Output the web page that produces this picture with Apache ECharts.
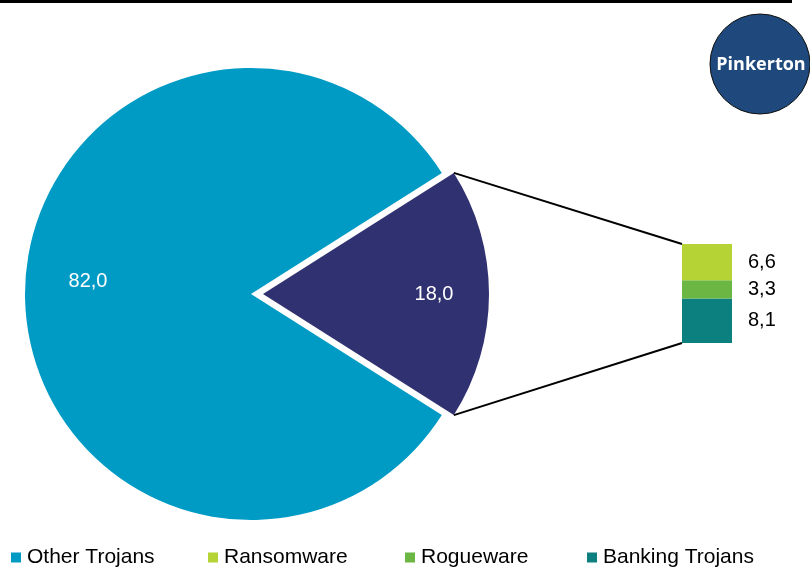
<!DOCTYPE html>
<html>
<head>
<meta charset="utf-8">
<script src="https://cdn.jsdelivr.net/npm/echarts@6/dist/echarts.min.js"></script>
<style>
  html, body { margin: 0; padding: 0; background: #fff; }
  #chart { width: 810px; height: 567px; }
</style>
</head>
<body>
<div id="chart"></div>
<script>
// Trojan family shares (percent), pie plus breakdown bar
const pieNames = ['Other Trojans', 'Other'];
const pieValues = [82.0, 18.0];
const barNames = ['Ransomware', 'Rogueware', 'Banking Trojans'];
const barValues = [6.6, 3.3, 8.1];
const legendNames = ['Other Trojans', 'Ransomware', 'Rogueware', 'Banking Trojans'];

const colors = {
  'Other Trojans': '#009bc4',
  'Other': '#303170',
  'Ransomware': '#b5d334',
  'Rogueware': '#6cb744',
  'Banking Trojans': '#0b807e'
};

const FONT = '"Liberation Sans", Arial, sans-serif';
const fmt = v => v.toFixed(1).replace('.', ',');

// Pie layout
const PIE_CX = 251, PIE_CY = 294, PIE_R = 226, EXPLODE = 12;
const splitTotal = pieValues[1];
const half = splitTotal / (pieValues[0] + pieValues[1]) * 180; // half-angle of detached slice

// Bar layout
const BAR_LEFT = 682, BAR_W = 50, BAR_TOP = 244, BAR_H = 99;

const chart = echarts.init(document.getElementById('chart'), null, { renderer: 'canvas' });

// Stack from the bottom: Banking, Rogueware, Ransomware
const stackOrder = [2, 1, 0];
const barSeries = stackOrder.map(i => ({
  type: 'bar',
  name: barNames[i],
  stack: 'split',
  barWidth: '100%',
  data: [barValues[i]],
  itemStyle: { color: colors[barNames[i]] },
  label: {
    show: true,
    position: 'right',
    distance: 16,
    color: '#000',
    fontFamily: FONT,
    fontSize: 20,
    formatter: p => fmt(p.value)
  },
  silent: true
}));

const legends = legendNames.map((n, k) => ({
  data: [{ name: n, icon: 'rect', itemStyle: { color: colors[n] } }],
  left: [11, 208, 405, 587][k],
  top: 547,
  padding: 0,
  itemWidth: 10,
  itemHeight: 10,
  selectedMode: false,
  textStyle: { fontFamily: FONT, fontSize: 21, color: '#000', padding: [0, 0, 0, 1] }
}));

// Two pie layers sharing one dataset: the main body, and the detached slice shifted right
function pieLayer(showIdx, center, labelOffset) {
  return {
    type: 'pie',
    center: center,
    radius: PIE_R,
    startAngle: half,
    clockwise: true,
    silent: true,
    emphasis: { disabled: true },
    labelLine: { show: false },
    data: [1, 0].map(i => {
      const visible = i === showIdx;
      return {
        name: pieNames[i],
        value: pieValues[i],
        itemStyle: { color: visible ? colors[pieNames[i]] : 'rgba(0,0,0,0)' },
        label: {
          show: visible,
          position: 'inside',
          offset: labelOffset,
          color: '#fff',
          fontFamily: FONT,
          fontSize: 20,
          formatter: p => fmt(p.value)
        }
      };
    })
  };
}

const option = {
  animation: false,
  backgroundColor: '#fff',
  legend: legends,
  grid: { left: BAR_LEFT, top: BAR_TOP, width: BAR_W, height: BAR_H, containLabel: false },
  xAxis: { type: 'category', data: [''], show: false },
  yAxis: { type: 'value', min: 0, max: splitTotal, show: false },
  series: [
    pieLayer(0, [PIE_CX, PIE_CY], [-47, -13]),
    pieLayer(1, [PIE_CX + EXPLODE, PIE_CY], [55, 0]),
    ...barSeries
  ]
};

chart.setOption(option);

// Connector lines from detached slice corners to the bar, plus header rule and logo
function drawExtras() {
  const rad = half * Math.PI / 180;
  const ax = PIE_CX + EXPLODE + PIE_R * Math.cos(rad);
  const ayTop = PIE_CY - PIE_R * Math.sin(rad);
  const ayBot = PIE_CY + PIE_R * Math.sin(rad);
  const topPt = chart.convertToPixel({ xAxisIndex: 0, yAxisIndex: 0 }, [0, splitTotal]);
  const botPt = chart.convertToPixel({ xAxisIndex: 0, yAxisIndex: 0 }, [0, 0]);
  const bx = BAR_LEFT;
  chart.setOption({
    graphic: [
      { type: 'rect', shape: { x: 0, y: 0, width: 792, height: 3 }, style: { fill: '#000' }, silent: true },
      { type: 'line', shape: { x1: ax, y1: ayTop, x2: bx, y2: topPt[1] }, style: { stroke: '#000', lineWidth: 2 }, silent: true },
      { type: 'line', shape: { x1: ax, y1: ayBot, x2: bx, y2: botPt[1] }, style: { stroke: '#000', lineWidth: 2 }, silent: true },
      { type: 'circle', shape: { cx: 760, cy: 64, r: 50 }, style: { fill: '#1f497d', stroke: '#111', lineWidth: 1 }, silent: true },
      { type: 'text', x: 761, y: 65, style: { text: 'Pinkerton', fill: '#fff', font: 'bold 18px "Open Sans", sans-serif', align: 'center', verticalAlign: 'middle' }, silent: true }
    ]
  });
}
drawExtras();
</script>
</body>
</html>
